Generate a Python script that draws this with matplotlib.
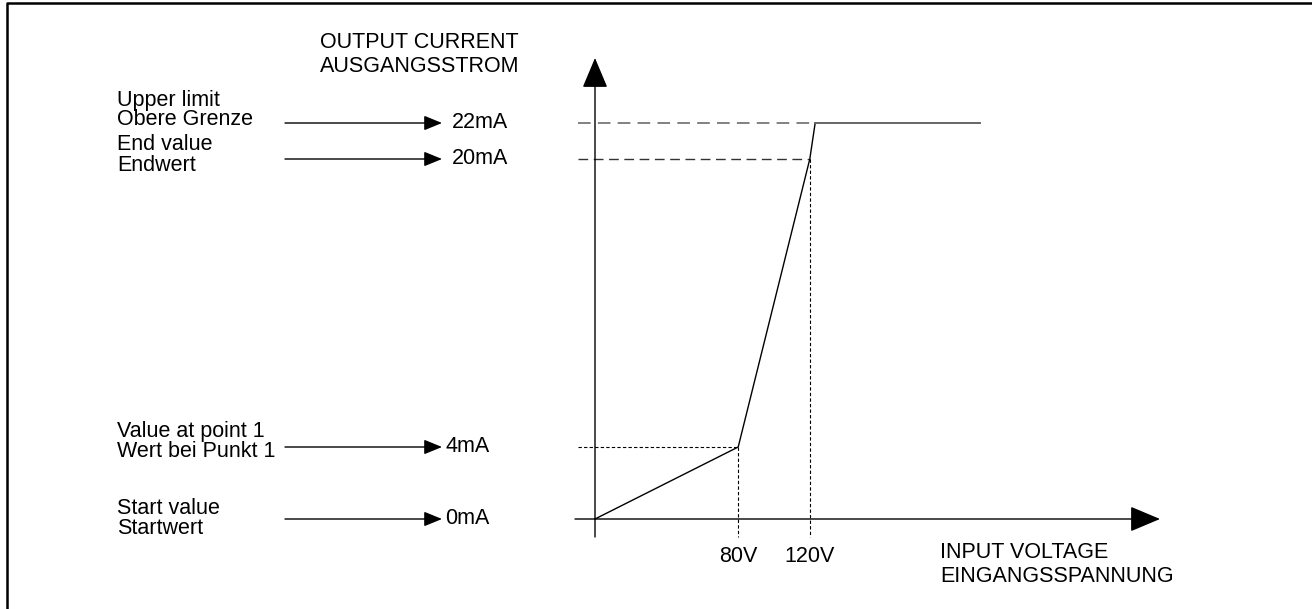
import matplotlib.pyplot as plt
from matplotlib.lines import Line2D

plt.rcParams['font.family'] = ['Liberation Sans', 'DejaVu Sans']

# characteristic curve (input voltage V -> output current mA)
voltage = [0, 80, 120, 123, 215]
current = [0, 4, 20, 22, 22]

# marked levels on the current axis
levels = [22, 20, 4, 0]
level_labels = ['22mA', '20mA', '4mA', '0mA']
level_names = [('Upper limit', 'Obere Grenze'),
               ('End value', 'Endwert'),
               ('Value at point 1', 'Wert bei Punkt 1'),
               ('Start value', 'Startwert')]

# marked voltages
volt_ticks = [80, 120]
volt_labels = ['80V', '120V']

# pixel -> data mapping of the drawing (origin at 595, 519 px)
PX_V = 1.79
PX_MA = 18.0
X0, Y0 = 595, 519
W, H = 1312, 609

def px(x):
    return (x - X0) / PX_V

def py(y):
    return (Y0 - y) / PX_MA

fig = plt.figure(figsize=(W / 100, H / 100), dpi=100)
ax = fig.add_axes([0, 0, 1, 1])
ax.set_xlim(px(0), px(W))
ax.set_ylim(py(H), py(0))
ax.axis('off')

fs = 15.5

# frame
fig.add_artist(Line2D([7 / W, 7 / W, 1.0], [0.0, 1 - 3 / H, 1 - 3 / H],
                      color='black', lw=1.8, transform=fig.transFigure))

# axes with arrow heads
big = dict(arrowstyle='-|>,head_length=19,head_width=8', mutation_scale=1,
           color='black', lw=1.0, shrinkA=0, shrinkB=0)
ax.annotate('', xy=(0, py(58)), xytext=(0, py(537)), arrowprops=big)
ax.annotate('', xy=(px(1160), 0), xytext=(px(575), 0), arrowprops=big)

# helper dashed lines
x_left = px(578)
ax.plot([x_left, voltage[3]], [levels[0]] * 2, color='#777777', lw=1.3,
        dashes=(7, 4))
ax.plot([x_left, volt_ticks[1]], [levels[1]] * 2, color='#333333', lw=1.0,
        dashes=(7, 4))
ax.plot([x_left, volt_ticks[0]], [levels[2]] * 2, color='black', lw=0.8,
        dashes=(3, 2))
ax.plot([volt_ticks[0]] * 2, [levels[2], py(537)], color='black', lw=0.8,
        dashes=(3, 2))
ax.plot([volt_ticks[1]] * 2, [levels[1], py(537)], color='black', lw=0.8,
        dashes=(3, 2))

# curve
ax.plot(voltage[:4], current[:4], color='black', lw=1.0)
ax.plot(voltage[3:], current[3:], color='#666666', lw=1.4)

# level annotations on the left
small = dict(arrowstyle='-|>,head_length=11,head_width=4.5', mutation_scale=1,
             color='black', lw=1.0, shrinkA=0, shrinkB=0)
arrow_x = [(285, 442), (285, 442), (285, 442), (285, 442)]
label_x = [452, 452, 445, 445]
name_y = [(101, 120), (145, 166), (432, 452), (509, 529)]
for lvl, lab, (n1, n2), (xa, xb), lx, (y1, y2) in zip(
        levels, level_labels, level_names, arrow_x, label_x, name_y):
    ax.annotate('', xy=(px(xb), lvl), xytext=(px(xa), lvl), arrowprops=small)
    ax.text(px(lx), lvl, lab, fontsize=fs, va='center', ha='left')
    ax.text(px(117), py(y1), n1, fontsize=fs, va='center', ha='left')
    ax.text(px(117), py(y2), n2, fontsize=fs, va='center', ha='left')

# voltage labels
for v, lab in zip(volt_ticks, volt_labels):
    ax.text(v, py(556), lab, fontsize=fs, va='center', ha='center')

# axis titles
ax.text(px(320), py(43), 'OUTPUT CURRENT', fontsize=fs, va='center', ha='left')
ax.text(px(320), py(67), 'AUSGANGSSTROM', fontsize=fs, va='center', ha='left')
ax.text(px(940), py(552), 'INPUT VOLTAGE', fontsize=fs, va='center', ha='left')
ax.text(px(940), py(577), 'EINGANGSSPANNUNG', fontsize=fs, va='center', ha='left')

fig.savefig('out.png', dpi=100)
